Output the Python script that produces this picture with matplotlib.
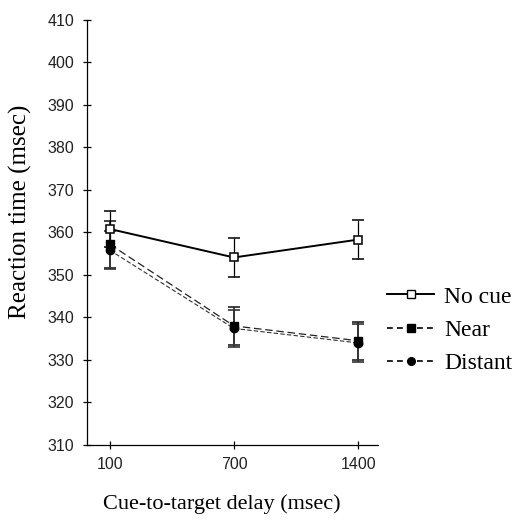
import matplotlib
matplotlib.use("Agg")
import matplotlib.pyplot as plt
from matplotlib.lines import Line2D

delays = ["100", "700", "1400"]
no_cue = [360.8, 354.1, 358.3]
no_cue_err = [4.3, 4.5, 4.5]
near = [357.2, 338.0, 334.5]
near_err = [5.5, 4.5, 4.5]
distant = [355.8, 337.4, 334.0]
distant_err = [4.5, 4.3, 4.5]
labels = ["No cue", "Near", "Distant"]

SERIF = "Liberation Serif"
SANS = "Liberation Sans"

fig = plt.figure(figsize=(5.17, 5.24), dpi=100)
ax = fig.add_axes([0.168, 0.151, 0.563, 0.811])

x = list(range(len(delays)))

near_ls = (0, (6, 3))
dist_ls = (0, (4, 2))

ax.errorbar(x, no_cue, yerr=no_cue_err, color="black", lw=1.4,
            marker="s", ms=6, mfc="white", mec="black", mew=1.1,
            capsize=4, elinewidth=0.9, capthick=0.9, zorder=3)
ax.errorbar(x, near, yerr=near_err, color="#222222", lw=0.9, ls=near_ls,
            marker="s", ms=5.5, mfc="black", mec="black",
            capsize=4, elinewidth=1.2, capthick=1.2, zorder=2)
ax.errorbar(x, distant, yerr=distant_err, color="#333333", lw=0.8, ls=dist_ls,
            marker="o", ms=6, mfc="black", mec="black",
            capsize=4, elinewidth=1.2, capthick=1.2, zorder=2)

ax.set_xlim(-0.185, 2.16)
ax.set_ylim(310, 410)
ax.set_xticks(x)
ax.set_xticklabels(delays)
ax.set_yticks(range(310, 411, 10))

for s in ["top", "right"]:
    ax.spines[s].set_visible(False)
for s in ["left", "bottom"]:
    ax.spines[s].set_linewidth(0.9)

ax.tick_params(direction="inout", length=6, width=0.9, labelsize=11.5, pad=6)
for lab in ax.get_xticklabels() + ax.get_yticklabels():
    lab.set_family(SANS)
    lab.set_color("#222222")

ax.set_ylabel("Reaction time (msec)", family=SERIF, fontsize=18)
ax.yaxis.set_label_coords(-0.19, 0.548)
fig.text(0.43, 0.038, "Cue-to-target delay (msec)", family=SERIF, fontsize=16,
         ha="center", va="center")

# legend (no error bars in the keys)
handles = [
    Line2D([], [], color="black", lw=1.4, marker="s", ms=6, mfc="white", mec="black"),
    Line2D([], [], color="black", lw=1.2, ls=(0, (3.5, 2.5)), marker="s", ms=5.5, mfc="black"),
    Line2D([], [], color="black", lw=1.2, ls=(0, (3.5, 2.5)), marker="o", ms=5.5, mfc="black"),
]
ax.legend(handles, labels, loc="center left", bbox_to_anchor=(1.031, 0.27),
          frameon=False, prop={"family": SERIF, "size": 17}, handlelength=2.0,
          handletextpad=0.42, labelspacing=0.5, borderpad=0, borderaxespad=0)

plt.savefig("out.png", dpi=100)
